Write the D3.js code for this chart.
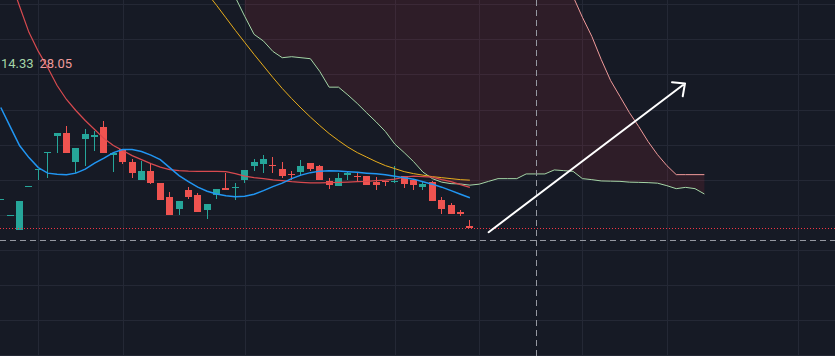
<!DOCTYPE html>
<html><head><meta charset="utf-8">
<script src="https://cdn.jsdelivr.net/npm/d3@7"></script>
<style>html,body{margin:0;padding:0;background:#161a25;overflow:hidden}svg{display:block}</style>
</head><body><svg id="c" width="835" height="356"></svg>
<script>
// ---- data (bar index = position along the time axis) ----
const opens  = [15.52,13.94,12.50,16.84,18.54,20.22,21.83,22.20,19.23,21.53,21.77,22.80,19.97,20.60,19.30,17.43,18.40,17.20,15.80,14.53,16.50,16.00,14.43,15.93,16.70,16.67,17.43,18.83,19.10,19.00,18.60,18.10,18.30,19.20,18.90,17.40,16.90,17.93,17.90,17.90,17.23,17.40,17.33,17.87,17.50,16.73,17.23,15.50,15.00,14.23,12.90];
const highs  = [15.60,14.00,15.40,16.90,18.60,20.30,22.20,22.90,20.70,22.60,22.37,23.40,20.20,20.60,19.57,19.33,19.10,17.20,16.30,15.40,16.77,16.20,15.10,16.60,18.17,17.20,18.47,19.60,19.93,19.80,19.30,18.40,19.50,19.20,19.00,17.70,18.13,18.30,18.20,17.90,17.73,17.40,18.90,17.87,17.50,17.37,17.33,15.80,15.13,14.47,13.50];
const lows   = [15.52,13.94,12.50,16.84,17.50,17.70,20.20,20.13,18.17,18.83,20.33,20.13,18.23,19.07,17.63,17.43,17.03,15.43,13.93,13.93,15.60,14.23,13.53,15.53,16.43,15.45,17.13,18.33,18.20,18.13,17.63,17.43,17.83,18.33,17.43,16.53,16.83,17.43,17.33,16.93,16.50,16.83,17.20,16.63,16.43,16.43,15.33,14.03,14.03,13.83,12.67];
const closes = [15.60,14.00,15.40,16.90,18.60,20.30,22.20,20.13,20.70,22.10,21.93,20.13,20.20,19.23,18.13,18.40,17.13,15.50,13.93,15.40,15.80,14.23,15.10,16.60,16.43,16.80,18.47,19.27,19.60,18.90,17.90,17.97,18.90,18.60,17.43,16.93,17.70,18.20,17.73,16.93,16.97,17.23,17.40,17.03,16.93,17.10,15.33,14.53,14.03,14.03,12.67];

// conversion line (blue), bars 0..50
const conversion = [24.7,22.8,20.9,19.7,18.7,18.15,18.05,18.0,18.15,18.55,19.15,19.65,20.2,20.5,20.5,20.3,19.95,19.5,18.7,17.9,17.3,16.75,16.35,16.07,15.9,15.8,15.85,16.05,16.4,16.8,17.15,17.6,17.95,18.2,18.35,18.4,18.37,18.3,18.23,18.15,18.08,18.0,17.85,17.7,17.55,17.3,17.05,16.75,16.4,16.05,15.7];
// base line (red), bars 0..50
const baseLine = [40.0,37.5,34.8,32.2,30.3,28.7,26.9,25.5,24.4,23.4,22.5,21.6,20.9,20.4,19.9,19.5,19.1,18.75,18.5,18.4,18.35,18.33,18.33,18.33,18.3,18.1,17.85,17.7,17.6,17.48,17.4,17.3,17.23,17.17,17.17,17.2,17.22,17.25,17.3,17.33,17.4,17.45,17.55,17.75,17.85,17.8,17.75,17.5,17.3,17.0,16.73];
// moving average (yellow), starts at bar 21
const maStart = 21;
const movingAvg = [37.3,36.1,34.9,33.65,32.4,31.2,30.0,28.85,27.7,26.6,25.6,24.65,23.75,22.9,22.1,21.4,20.75,20.2,19.75,19.3,18.9,18.6,18.3,18.1,17.95,17.8,17.7,17.6,17.5,17.45];
// leading span A (light green), starts at bar 25
const spanAStart = 25;
const spanA = [35.7,33.8,32.0,31.33,30.3,29.67,29.77,29.67,29.57,28.3,26.73,26.73,25.95,25.1,24.17,23.27,22.3,21.05,20.2,19.3,18.25,17.6,17.25,17.1,17.07,16.95,17.05,17.33,17.6,17.6,17.6,18.07,18.07,18.07,18.47,18.4,18.33,17.6,17.5,17.37,17.35,17.33,17.25,17.23,17.2,17.15,16.9,16.6,16.73,16.6,16.07];
// leading span B (light red), starts at bar 26
const spanBStart = 26;
const spanB = [41.0,41.0,41.0,41.0,41.0,41.0,41.0,41.0,41.0,41.0,40.0,40.0,40.0,40.0,40.0,40.0,40.0,40.0,40.0,40.0,40.0,40.0,40.0,40.0,40.0,39.0,39.0,39.0,39.0,39.0,39.0,39.0,39.0,38.0,38.0,35.8,33.7,31.8,29.5,27.4,25.8,24.2,22.8,21.3,20.0,18.9,18.0,18.0,18.0,18.0];

const gridBars = [4,13,26,42,51,62,71,85];
const gridPrices = [0,3.5,7,10.5,14,17.5,21,24.5,28,31.5,35];
const crosshairBar = 57, crosshairPrice = 11.47;
const arrowPts = [{bar:52, price:12.25},{bar:72.93, price:27.1}];
const legendValues = ["14.33","28.05"];

// ---- drawing ----
const W = 835, H = 356;
const svg = d3.select("#c");
const x = d3.scaleLinear().domain([0,85]).range([0.8,798.2]);
const y = d3.scaleLinear().domain([0,35]).range([355,4.3]);

svg.append("rect").attr("width",W).attr("height",H).attr("fill","#161a25");

// grid via axes
const gx = svg.append("g").attr("transform",`translate(0,${H})`)
  .call(d3.axisBottom(x).tickValues(gridBars).tickSize(-H).tickFormat(""));
const gy = svg.append("g")
  .call(d3.axisLeft(y).tickValues(gridPrices).tickSize(-W).tickFormat(""));
[gx,gy].forEach(g=>{g.select(".domain").remove();
  g.selectAll("line").attr("stroke","#242835").attr("stroke-width",1).attr("shape-rendering","crispEdges");});
gx.selectAll(".tick").attr("transform",d=>`translate(${Math.round(x(d))+0.5},0)`);
gy.selectAll(".tick").attr("transform",d=>`translate(0,${Math.round(y(d))+0.5})`);

// cloud
const cloud = d3.range(spanBStart, spanBStart+spanB.length).map(i=>({i, a:spanA[i-spanAStart], b:spanB[i-spanBStart]}));
svg.append("path").datum(cloud)
  .attr("d", d3.area().x(d=>x(d.i)).y0(d=>y(d.a)).y1(d=>y(d.b)))
  .attr("fill","rgba(242,54,69,0.11)");

const line = d3.line().x(d=>x(d[0])).y(d=>y(d[1]));
function series(arr, start, color, w){
  svg.append("path").datum(arr.map((v,k)=>[start+k,v]))
    .attr("d", line).attr("fill","none").attr("stroke",color).attr("stroke-width",w);
}

// candles
const candles = svg.append("g");
opens.forEach((o,i)=>{
  const c = closes[i], up = c >= o, col = up ? "#26a69a" : "#ef5350";
  const cx = x(i);
  candles.append("rect").attr("x",Math.floor(cx)).attr("width",1)
    .attr("y",y(highs[i])).attr("height",Math.max(1,y(lows[i])-y(highs[i])))
    .attr("fill",col).attr("shape-rendering","crispEdges");
  const top = y(Math.max(o,c)), bot = y(Math.min(o,c));
  candles.append("rect").attr("x",cx-3.5).attr("width",7)
    .attr("y",top).attr("height",Math.max(1,bot-top))
    .attr("fill",col).attr("shape-rendering","crispEdges");
});

series(spanB, spanBStart, "#ef9a9a", 1);
series(spanA, spanAStart, "#a5d6a7", 1);
series(movingAvg, maStart, "#e8ad1c", 1);
series(baseLine, 0, "#d84a4f", 1.2);
series(conversion, 0, "#2196f3", 1.5);

// last price line
const lp = Math.round(y(closes[closes.length-1]))+0.5;
svg.append("line").attr("x1",0).attr("x2",W).attr("y1",lp).attr("y2",lp)
  .attr("stroke","#f23645").attr("stroke-width",1).attr("stroke-dasharray","1,2");

// crosshair
const chx = Math.round(x(crosshairBar))+0.5, chy = Math.round(y(crosshairPrice))+0.5;
svg.append("line").attr("x1",chx).attr("x2",chx).attr("y1",0).attr("y2",H)
  .attr("stroke","#9598a1").attr("stroke-width",1).attr("stroke-dasharray","6,4");
svg.append("line").attr("x1",0).attr("x2",W).attr("y1",chy).attr("y2",chy)
  .attr("stroke","#9598a1").attr("stroke-width",1).attr("stroke-dasharray","6,4");

// arrow drawing
const p0 = [x(arrowPts[0].bar), y(arrowPts[0].price)], p1 = [x(arrowPts[1].bar), y(arrowPts[1].price)];
const ang = Math.atan2(p0[1]-p1[1], p0[0]-p1[0]);
const hl = 13, ha = 0.75;
const b1 = [p1[0]+hl*Math.cos(ang+ha), p1[1]+hl*Math.sin(ang+ha)];
const b2 = [p1[0]+hl*Math.cos(ang-ha), p1[1]+hl*Math.sin(ang-ha)];
svg.append("path").attr("d",`M${p0}L${p1}M${b1}L${p1}L${b2}`)
  .attr("fill","none").attr("stroke","#ffffff").attr("stroke-width",2)
  .attr("stroke-linecap","round").attr("stroke-linejoin","round");

// legend
svg.append("text").attr("x",1).attr("y",68).text(legendValues[0])
  .attr("fill","#a5d6a7").attr("font-family","Roboto, sans-serif").attr("font-size",13);
svg.append("text").attr("x",39.5).attr("y",68).text(legendValues[1])
  .attr("fill","#ef9a9a").attr("font-family","Roboto, sans-serif").attr("font-size",13);
</script>
</body></html>
